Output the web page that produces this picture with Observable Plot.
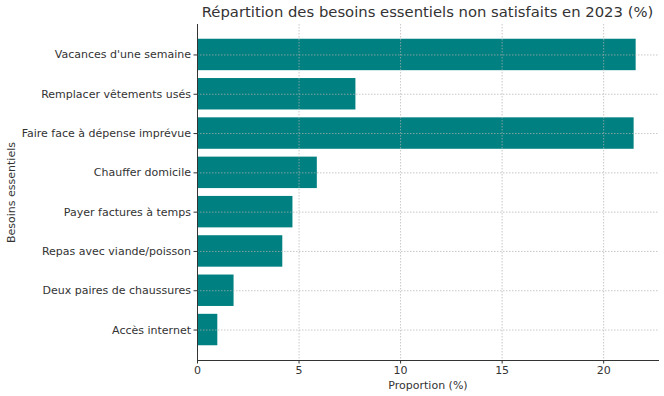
<!DOCTYPE html>
<html><head><meta charset="utf-8">
<script src="https://cdn.jsdelivr.net/npm/d3@7"></script>
<script src="https://cdn.jsdelivr.net/npm/@observablehq/plot@0.6"></script>
<style>
body{margin:0;background:#fff;font-family:"DejaVu Sans",sans-serif}
#wrap{position:relative;width:664px;height:396px}
#title{position:absolute;left:197px;width:461px;top:3px;text-align:center;font-size:14.8px;color:#333;white-space:nowrap}
#chart{position:absolute;left:0;top:0}
</style></head><body>
<div id="wrap"><div id="chart"></div><div id="title">Répartition des besoins essentiels non satisfaits en 2023 (%)</div></div>
<script>
const categories = ["Vacances d'une semaine","Remplacer vêtements usés","Faire face à dépense imprévue","Chauffer domicile","Payer factures à temps","Repas avec viande/poisson","Deux paires de chaussures","Accès internet"];
const values = [21.6, 7.8, 21.5, 5.9, 4.7, 4.2, 1.8, 1.0];
const xTicks = [0, 5, 10, 15, 20];
const xLabel = "Proportion (%)";
const yLabel = "Besoins essentiels";

const data = categories.map((c, i) => ({cat: c, v: values[i]}));

const chart = Plot.plot({
  width: 664, height: 396,
  marginTop: 24, marginBottom: 36, marginLeft: 197, marginRight: 6,
  style: {fontFamily: "DejaVu Sans, sans-serif", fontSize: "11px", color: "#333", background: "#fff"},
  x: {domain: [0, 22.7], ticks: xTicks, label: null},
  y: {domain: categories, paddingInner: 0.2, paddingOuter: 0.375, round: false, label: null},
  marks: [
    Plot.barX(data, {x: "v", y: "cat", fill: "#008080"}),
    Plot.gridX(xTicks, {stroke: "#b0b0b0", strokeOpacity: 0.7, strokeDasharray: "1.5,1.5"}),
    Plot.gridY(categories, {stroke: "#b0b0b0", strokeOpacity: 0.7, strokeDasharray: "1.5,1.5"}),
    Plot.ruleX([0], {stroke: "#333", strokeWidth: 1}),
    Plot.frame({anchor: "bottom", stroke: "#333", strokeWidth: 1}),
    Plot.axisX(xTicks, {tickSize: 3.5, tickPadding: 2, label: xLabel, labelAnchor: "center", labelArrow: "none", labelOffset: 28, fontSize: 11}),
    Plot.axisY({tickSize: 3.5, tickPadding: 3, label: yLabel, labelAnchor: "center", labelArrow: "none", labelOffset: 190, fontSize: 11})
  ]
});
document.getElementById("chart").appendChild(chart);
</script>
</body></html>
